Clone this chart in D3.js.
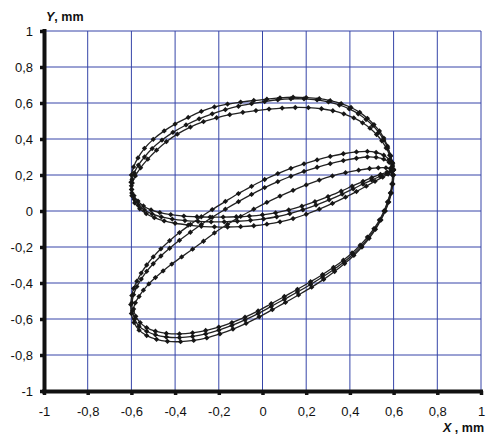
<!DOCTYPE html>
<html>
<head>
<meta charset="utf-8">
<script src="https://cdn.jsdelivr.net/npm/d3@7"></script>
<style>
  html, body { margin: 0; padding: 0; background: #fff; }
  svg { display: block; font-family: "Liberation Sans", Arial, sans-serif; }
</style>
</head>
<body>
<svg id="chart" width="486" height="441"></svg>
<script>
// Tick values of both axes, mm
const xTicks = [-1, -0.8, -0.6, -0.4, -0.2, 0, 0.2, 0.4, 0.6, 0.8, 1];
const yTicks = [-1, -0.8, -0.6, -0.4, -0.2, 0, 0.2, 0.4, 0.6, 0.8, 1];

// Measured orbit, revolution 1: [X, Y] in mm
const orbit1 = [
  // upper loop, top
  [0.597,0.228],[0.594,0.27],[0.585,0.31],[0.572,0.36],[0.555,0.405],[0.535,0.445],[0.51,0.48],[0.48,0.515],
  [0.445,0.548],[0.405,0.575],[0.36,0.597],[0.31,0.613],[0.26,0.624],[0.2,0.63],[0.14,0.632],[0.08,0.629],
  [0.02,0.621],[-0.04,0.614],[-0.1,0.605],[-0.16,0.594],[-0.22,0.578],[-0.28,0.553],[-0.34,0.52],[-0.4,0.483],
  [-0.45,0.445],[-0.5,0.398],[-0.54,0.348],[-0.57,0.295],[-0.59,0.245],[-0.6,0.2],[-0.602,0.16],
  // upper loop, bottom
  [-0.598,0.12],[-0.588,0.085],[-0.57,0.055],[-0.545,0.028],[-0.51,0.006],[-0.47,-0.009],[-0.42,-0.02],
  [-0.36,-0.028],[-0.3,-0.032],[-0.24,-0.034],[-0.18,-0.034],[-0.12,-0.032],[-0.06,-0.028],[0,-0.021],
  [0.06,-0.01],[0.12,0.006],[0.18,0.027],[0.24,0.052],[0.3,0.08],[0.36,0.11],[0.41,0.138],[0.46,0.165],
  [0.5,0.185],[0.54,0.203],[0.57,0.216],[0.59,0.224],
  // lower loop, outer side
  [0.6,0.2],[0.597,0.15],[0.59,0.1],[0.578,0.05],[0.562,0.0],[0.542,-0.05],[0.517,-0.102],[0.488,-0.152],
  [0.455,-0.2],[0.418,-0.247],[0.376,-0.292],[0.33,-0.336],[0.28,-0.38],[0.225,-0.423],[0.165,-0.466],
  [0.105,-0.508],[0.045,-0.548],[-0.015,-0.588],[-0.075,-0.624],[-0.135,-0.656],[-0.195,-0.683],
  [-0.255,-0.705],[-0.315,-0.719],[-0.375,-0.726],[-0.435,-0.724],[-0.485,-0.713],[-0.53,-0.692],
  [-0.565,-0.662],[-0.588,-0.62],[-0.6,-0.57],[-0.603,-0.52],[-0.598,-0.47],
  // lower loop, inner side
  [-0.59,-0.43],[-0.575,-0.39],[-0.555,-0.345],[-0.53,-0.3],[-0.5,-0.255],[-0.465,-0.21],[-0.425,-0.165],
  [-0.38,-0.12],[-0.33,-0.075],[-0.28,-0.032],[-0.23,0.008],[-0.17,0.053],[-0.11,0.097],[-0.05,0.137],
  [0.01,0.175],[0.07,0.208],[0.13,0.237],[0.19,0.262],[0.25,0.284],[0.31,0.303],[0.37,0.318],[0.43,0.328],
  [0.48,0.331],[0.52,0.325],[0.555,0.31],[0.58,0.285],[0.595,0.255],[0.6,0.23]
];

// Revolution 2
const orbit2 = [
  [0.6,0.228],[0.596,0.265],[0.587,0.305],[0.573,0.35],[0.555,0.395],[0.532,0.437],[0.505,0.475],[0.474,0.508],
  [0.438,0.54],[0.397,0.567],[0.352,0.589],[0.302,0.606],[0.25,0.617],[0.19,0.623],[0.13,0.623],[0.07,0.618],
  [0.01,0.608],[-0.05,0.596],[-0.11,0.582],[-0.17,0.563],[-0.23,0.54],[-0.29,0.512],[-0.35,0.478],[-0.41,0.437],
  [-0.46,0.394],[-0.505,0.347],[-0.54,0.3],[-0.568,0.255],[-0.587,0.212],[-0.597,0.175],[-0.6,0.14],
  [-0.598,0.1],[-0.587,0.065],[-0.567,0.033],[-0.54,0.006],[-0.505,-0.016],[-0.463,-0.033],[-0.413,-0.045],
  [-0.355,-0.053],[-0.295,-0.058],[-0.235,-0.06],[-0.175,-0.06],[-0.115,-0.057],[-0.055,-0.052],[0.005,-0.044],
  [0.065,-0.032],[0.125,-0.015],[0.185,0.007],[0.245,0.033],[0.305,0.062],[0.365,0.094],[0.415,0.123],
  [0.46,0.15],[0.5,0.172],[0.54,0.193],[0.57,0.208],[0.59,0.218],
  [0.597,0.2],[0.594,0.15],[0.587,0.1],[0.575,0.05],[0.559,0.0],[0.539,-0.05],[0.514,-0.1],[0.485,-0.148],
  [0.452,-0.195],[0.415,-0.24],[0.373,-0.283],[0.326,-0.325],[0.275,-0.367],[0.22,-0.408],[0.16,-0.45],
  [0.1,-0.49],[0.04,-0.53],[-0.02,-0.57],[-0.08,-0.605],[-0.14,-0.636],[-0.2,-0.662],[-0.26,-0.683],
  [-0.32,-0.697],[-0.38,-0.703],[-0.44,-0.7],[-0.49,-0.688],[-0.53,-0.668],[-0.565,-0.64],[-0.585,-0.6],
  [-0.595,-0.555],[-0.597,-0.51],
  [-0.59,-0.465],[-0.575,-0.42],[-0.555,-0.378],[-0.53,-0.335],[-0.5,-0.293],[-0.465,-0.25],[-0.425,-0.207],
  [-0.38,-0.163],[-0.33,-0.118],[-0.28,-0.075],[-0.23,-0.035],[-0.17,0.01],[-0.11,0.052],[-0.05,0.092],
  [0.01,0.13],[0.07,0.163],[0.13,0.193],[0.19,0.22],[0.25,0.243],[0.31,0.263],[0.37,0.28],[0.43,0.293],
  [0.48,0.3],[0.52,0.298],[0.555,0.288],[0.58,0.27],[0.595,0.248],[0.6,0.228]
];

// Revolution 3
const orbit3 = [
  [0.597,0.235],[0.592,0.27],[0.582,0.31],[0.566,0.35],[0.546,0.39],[0.522,0.425],[0.492,0.46],[0.458,0.49],
  [0.418,0.517],[0.372,0.54],[0.322,0.557],[0.27,0.568],[0.21,0.574],[0.15,0.575],[0.09,0.572],[0.03,0.566],
  [-0.03,0.558],[-0.09,0.548],[-0.15,0.535],[-0.21,0.518],[-0.27,0.496],[-0.33,0.466],[-0.39,0.427],
  [-0.44,0.385],[-0.485,0.338],[-0.525,0.288],[-0.558,0.24],[-0.582,0.195],[-0.596,0.155],[-0.6,0.12],
  [-0.598,0.085],[-0.585,0.045],[-0.562,0.012],[-0.532,-0.015],[-0.495,-0.037],[-0.45,-0.055],[-0.4,-0.068],
  [-0.34,-0.078],[-0.28,-0.085],[-0.22,-0.088],[-0.16,-0.089],[-0.1,-0.087],[-0.04,-0.082],[0.02,-0.073],
  [0.08,-0.06],[0.14,-0.042],[0.2,-0.018],[0.26,0.01],[0.32,0.042],[0.38,0.077],[0.43,0.108],[0.475,0.138],
  [0.515,0.165],[0.55,0.188],[0.575,0.205],[0.592,0.218],
  [0.595,0.2],[0.592,0.15],[0.585,0.1],[0.572,0.05],[0.556,0.0],[0.535,-0.05],[0.51,-0.098],[0.48,-0.145],
  [0.447,-0.19],[0.41,-0.233],[0.37,-0.273],[0.325,-0.313],[0.275,-0.353],[0.22,-0.393],[0.16,-0.435],
  [0.1,-0.475],[0.04,-0.515],[-0.02,-0.555],[-0.08,-0.59],[-0.14,-0.62],[-0.2,-0.645],[-0.26,-0.664],
  [-0.32,-0.677],[-0.38,-0.683],[-0.44,-0.68],[-0.49,-0.668],[-0.53,-0.648],[-0.56,-0.62],[-0.58,-0.585],
  [-0.59,-0.545],
  [-0.582,-0.51],[-0.565,-0.475],[-0.545,-0.44],[-0.52,-0.405],[-0.49,-0.37],[-0.455,-0.333],[-0.415,-0.295],
  [-0.37,-0.255],[-0.32,-0.212],[-0.27,-0.168],[-0.22,-0.122],[-0.16,-0.074],[-0.1,-0.03],[-0.04,0.01],
  [0.02,0.048],[0.08,0.083],[0.14,0.115],[0.2,0.145],[0.26,0.172],[0.32,0.195],[0.38,0.213],[0.44,0.227],
  [0.49,0.236],[0.53,0.24],[0.565,0.24],[0.585,0.236],[0.597,0.23]
];

const orbits = [orbit1, orbit2, orbit3];

const svg = d3.select("#chart");
const plotLeft = 44, plotRight = 481, plotTop = 31, plotBottom = 391;

const x = d3.scaleLinear().domain([-1, 1]).range([plotLeft, plotRight]);
const y = d3.scaleLinear().domain([-1, 1]).range([plotBottom, plotTop]);

const fmt = d => (Math.abs(d) < 1e-9 ? "0" : String(+d.toFixed(1)).replace(".", ","));

// Grid
const grid = svg.append("g").attr("stroke", "#3645a8").attr("stroke-width", 1);
grid.selectAll("line.v").data(xTicks.filter(d => d > -1)).join("line")
  .attr("class", "v")
  .attr("x1", d => x(d)).attr("x2", d => x(d))
  .attr("y1", plotTop).attr("y2", plotBottom);
grid.selectAll("line.h").data(yTicks.filter(d => d > -1)).join("line")
  .attr("class", "h")
  .attr("y1", d => y(d)).attr("y2", d => y(d))
  .attr("x1", plotLeft).attr("x2", plotRight);

// Orbit traces
const line = d3.line().x(d => x(d[0])).y(d => y(d[1])).curve(d3.curveCatmullRom.alpha(0.5));
const traces = svg.append("g");
traces.selectAll("path").data(orbits).join("path")
  .attr("d", line)
  .attr("fill", "none")
  .attr("stroke", "#222")
  .attr("stroke-width", 1.3);

const marker = d3.symbol().type(d3.symbolSquare).size(14)();
traces.selectAll("g.pts").data(orbits).join("g")
  .attr("class", "pts")
  .selectAll("path").data(d => d).join("path")
  .attr("d", marker)
  .attr("transform", d => `translate(${x(d[0])},${y(d[1])}) rotate(45)`)
  .attr("fill", "#161616");

// Axes
const yAxis = d3.axisLeft(y).tickValues(yTicks).tickSize(4).tickPadding(7).tickFormat(fmt);
const xAxis = d3.axisBottom(x).tickValues(xTicks).tickSize(4).tickPadding(12).tickFormat(fmt);

const gy = svg.append("g").attr("transform", `translate(${plotLeft},0)`).call(yAxis);
const gx = svg.append("g").attr("transform", `translate(0,${plotBottom})`).call(xAxis);

[gx, gy].forEach(g => {
  g.select(".domain").attr("stroke", "#111").attr("stroke-width", 4);
  g.selectAll(".tick line").attr("stroke", "#111").attr("stroke-width", 3.5);
  g.selectAll(".tick text").attr("fill", "#111").attr("font-size", 13)
    .attr("font-family", "'Liberation Sans', Arial, sans-serif");
});
gy.select(".domain").attr("d", `M0.5,${plotTop - 2}V${plotBottom + 2}`);
gx.select(".domain").attr("d", `M${plotLeft - 2},0.5H${plotRight + 2}`);

// Axis titles
const t1 = svg.append("text").attr("x", 46).attr("y", 21)
  .attr("font-size", 12.5).attr("font-weight", "bold").attr("fill", "#111");
t1.append("tspan").attr("font-style", "italic").text("Y");
t1.append("tspan").text(", mm");

const t2 = svg.append("text").attr("x", 484).attr("y", 432).attr("text-anchor", "end")
  .attr("font-size", 12.5).attr("font-weight", "bold").attr("fill", "#111");
t2.append("tspan").attr("font-style", "italic").text("X");
t2.append("tspan").text(" , mm");
</script>
</body>
</html>
